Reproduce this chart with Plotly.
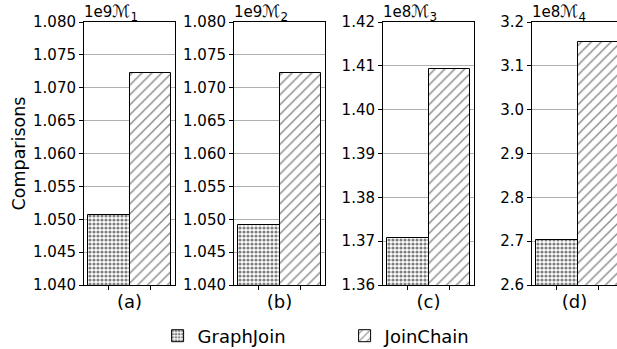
import plotly.graph_objects as go

W, H = 617, 349

panels = ["(a)", "(b)", "(c)", "(d)"]
models = ["ℳ<sub>1</sub>", "ℳ<sub>2</sub>", "ℳ<sub>3</sub>", "ℳ<sub>4</sub>"]
exponents = [9, 9, 8, 8]
graphjoin = [1.0506e9, 1.0492e9, 1.3707e8, 2.703e8]
joinchain = [1.0722e9, 1.0722e9, 1.4093e8, 3.155e8]
y_ranges = [(1.040, 1.080), (1.040, 1.080), (1.36, 1.42), (2.6, 3.2)]
y_dticks = [0.005, 0.005, 0.01, 0.1]
y_formats = [".3f", ".3f", ".2f", ".1f"]
series_names = ["GraphJoin", "JoinChain"]

FONT = "DejaVu Sans"

# pixel geometry
px_left = [84, 234, 383, 532]
px_w = 91
top_px, bot_px = 22, 285

fig = go.Figure()
layout = dict(
    width=W, height=H,
    margin=dict(l=0, r=0, t=top_px, b=H - bot_px, pad=0),
    plot_bgcolor="white", paper_bgcolor="white",
    font=dict(family=FONT, size=15, color="black"),
    showlegend=True,
    legend=dict(orientation="h", x=0.5585, xanchor="center", xref="container",
                y=(H - 336) / H, yanchor="middle", yref="container",
                font=dict(size=18, family=FONT), entrywidth=142, entrywidthmode="pixels",
                traceorder="normal", borderwidth=0, bgcolor="rgba(0,0,0,0)"),
    bargap=0,
)
annotations = []
for i in range(4):
    k = "" if i == 0 else str(i + 1)
    scale = 10 ** exponents[i]
    x0 = px_left[i] / W
    x1 = min((px_left[i] + px_w) / W, 1.0)
    full_range = 2.2
    vis = (min(px_left[i] + px_w, W) - px_left[i]) / px_w * full_range
    xr = [-0.6, -0.6 + vis]
    for j, (name, vals) in enumerate(zip(series_names, [graphjoin, joinchain])):
        if j == 0:
            pattern = dict(shape=".", size=4, solidity=0.5, fgcolor="black", bgcolor="white", fillmode="overlay")
        else:
            pattern = dict(shape="/", size=7, solidity=0.18, fgcolor="black", bgcolor="white", fillmode="overlay")
        fig.add_trace(go.Bar(
            x=[j], y=[vals[i] / scale], width=[1.0],
            name=name, legendgroup=name, showlegend=(i == 0),
            marker=dict(color="white", line=dict(color="black", width=1), pattern=pattern),
            xaxis="x" + k, yaxis="y" + k,
        ))
    layout["xaxis" + k] = dict(
        domain=[x0, x1], anchor="y" + k, range=xr, automargin=False,
        tickvals=[0, 1], ticktext=["", ""], ticks="outside", ticklen=4, tickcolor="black",
        showline=True, linecolor="black", linewidth=1, mirror=True, showgrid=False, zeroline=False,
        title=dict(text=panels[i], font=dict(size=18, family=FONT), standoff=3),
    )
    layout["yaxis" + k] = dict(
        domain=[0, 1], anchor="x" + k, range=list(y_ranges[i]), automargin=False,
        dtick=y_dticks[i], tick0=y_ranges[i][0], tickformat=y_formats[i],
        ticks="outside", ticklen=4, tickcolor="black",
        showline=True, linecolor="black", linewidth=1, mirror=(i < 3),
        showgrid=True, gridcolor="#b0b0b0", gridwidth=1, zeroline=False,
        tickfont=dict(size=15, family=FONT),
    )
    annotations.append(dict(
        xref="paper", yref="paper", x=x0, y=1.0, xanchor="left", yanchor="bottom",
        yshift=-4, xshift=-2, showarrow=False,
        text="<span style='font-size:15px'>1e%d</span>%s" % (exponents[i], models[i]),
        font=dict(size=17, family=FONT),
    ))
layout["yaxis"]["title"] = dict(text="Comparisons", font=dict(size=17.5, family=FONT), standoff=2)
layout["annotations"] = annotations
fig.update_layout(**layout)
fig.write_html("out.html")
